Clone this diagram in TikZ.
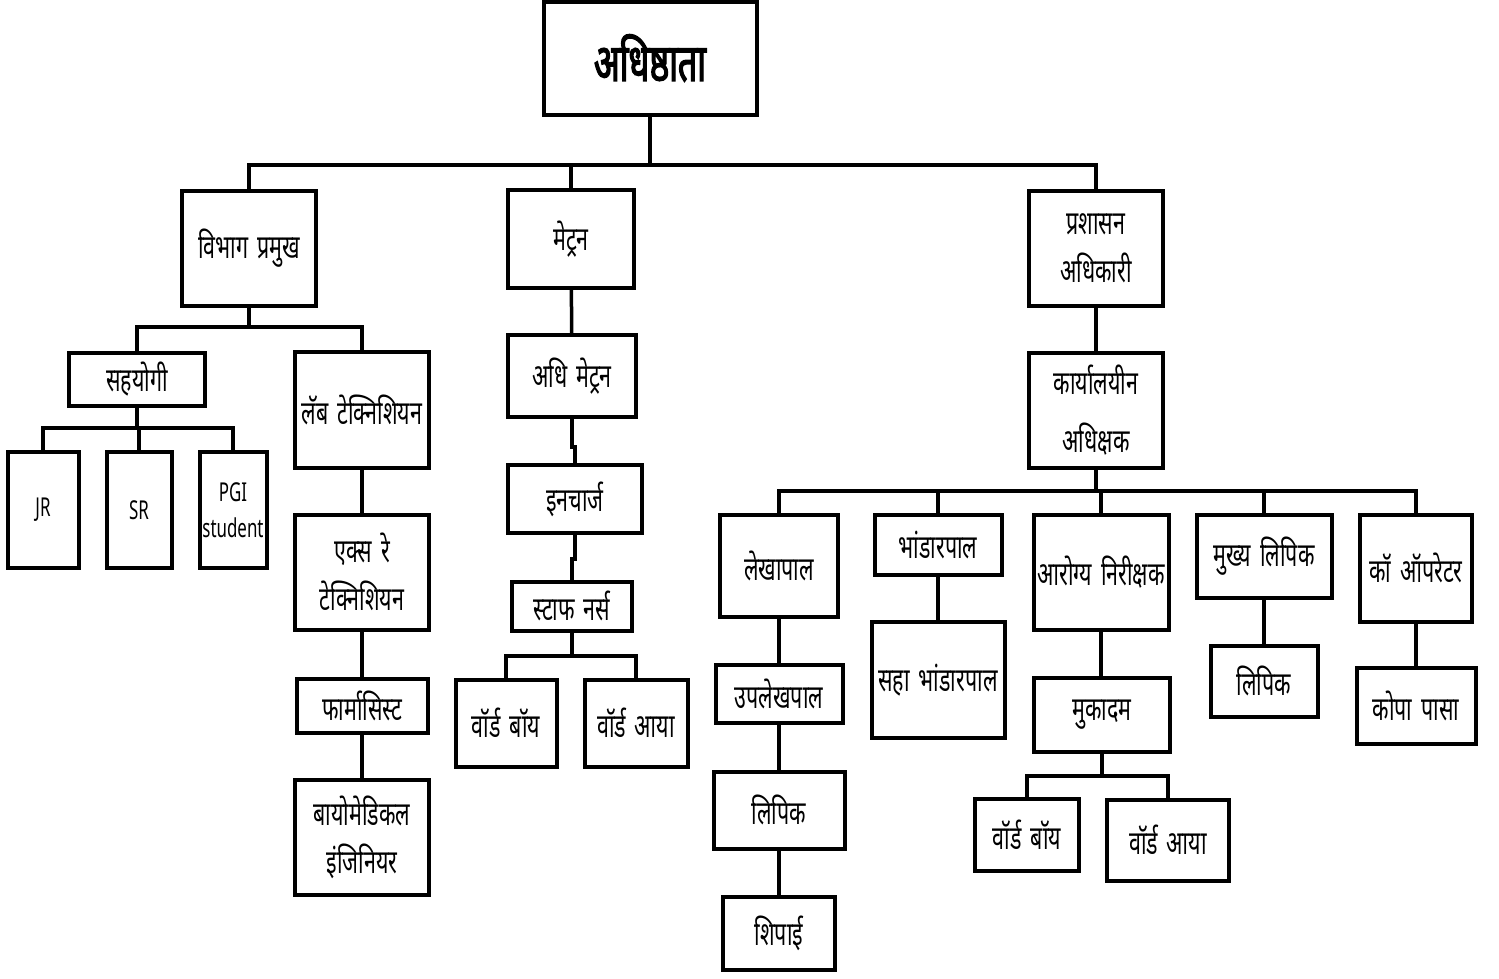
\documentclass[tikz,border=0pt]{standalone}
\usepackage{fontspec}
\setmainfont[Script=Devanagari, FakeStretch=0.65, WordSpace=1.6]{Noto Sans}
\newfontfamily\rootfont[Script=Devanagari, FakeStretch=0.65, FakeBold=2.5]{Noto Sans}
\usetikzlibrary{positioning}

\tikzset{
  box/.style={draw, line width=4pt, inner sep=0pt, align=center, fill=white},
  link/.style={line width=3.5pt},
  latin/.style={font=\fontsize{26}{36}\selectfont}
}

\begin{document}
\begin{tikzpicture}[x=1pt, y=-1pt, font=\fontsize{33}{48}\selectfont]

\useasboundingbox (0,0) rectangle (1499,978);

% top
\node (root)[box, minimum width=213pt, minimum height=113pt, font=\rootfont\fontsize{52}{56}\selectfont] at (650, 58) {अधिष्ठाता};

\node (vibhag)[box, minimum width=134pt, minimum height=115pt] at (249, 248) {विभाग प्रमुख};
\node (metron)[box, minimum width=126pt, minimum height=98pt] at (571, 239) {मेट्रन};
\node (prashasan)[box, minimum width=134pt, minimum height=115pt] at (1096, 248) {प्रशासन\\अधिकारी};

% left branch
\node (sahyogi)[box, minimum width=136pt, minimum height=53pt] at (137, 379) {सहयोगी};
\node (labtech)[box, minimum width=134pt, minimum height=116pt] at (362, 410) {लॅब टेक्निशियन};
\node (jr)[box, latin, minimum width=71pt, minimum height=116pt] at (43, 510) {JR};
\node (sr)[box, latin, minimum width=65pt, minimum height=116pt] at (139, 510) {SR};
\node (pgi)[box, latin, minimum width=67pt, minimum height=116pt] at (233, 510) {PGI\\student};
\node (xray)[box, minimum width=134pt, minimum height=115pt] at (362, 572) {एक्स रे\\टेक्निशियन};
\node (pharma)[box, minimum width=131pt, minimum height=54pt] at (362, 706) {फार्मासिस्ट};
\node (biomed)[box, minimum width=134pt, minimum height=115pt] at (362, 837) {बायोमेडिकल\\इंजिनियर};

% middle branch
\node (admetron)[box, minimum width=128pt, minimum height=82pt] at (572, 376) {अधि मेट्रन};
\node (incharge)[box, minimum width=134pt, minimum height=68pt] at (575, 499) {इनचार्ज};
\node (nurse)[box, minimum width=120pt, minimum height=49pt] at (572, 606) {स्टाफ नर्स};
\node (wboyA)[box, minimum width=101pt, minimum height=87pt] at (506, 723) {वॉर्ड बॉय};
\node (wayaA)[box, minimum width=103pt, minimum height=87pt] at (636, 723) {वॉर्ड आया};

% right branch
\node (office)[box, minimum width=134pt, minimum height=115pt, font=\fontsize{33}{58}\selectfont] at (1096, 410) {कार्यालयीन\\अधिक्षक};
\node (lekha)[box, minimum width=118pt, minimum height=102pt] at (779, 566) {लेखापाल};
\node (bhandar)[box, minimum width=127pt, minimum height=60pt] at (938, 545) {भांडारपाल};
\node (arogya)[box, minimum width=135pt, minimum height=115pt] at (1101, 572) {आरोग्य निरीक्षक};
\node (mukhya)[box, minimum width=135pt, minimum height=83pt] at (1264, 556) {मुख्य लिपिक};
\node (comp)[box, minimum width=112pt, minimum height=107pt] at (1416, 568) {कॉ ऑपरेटर};
\node (uplekha)[box, minimum width=127pt, minimum height=58pt] at (779, 694) {उपलेखपाल};
\node (lipikA)[box, minimum width=131pt, minimum height=77pt] at (779, 810) {लिपिक};
\node (shipai)[box, minimum width=112pt, minimum height=73pt] at (779, 933) {शिपाई};
\node (sahabh)[box, minimum width=133pt, minimum height=116pt] at (938, 680) {सहा भांडारपाल};
\node (mukadam)[box, minimum width=136pt, minimum height=74pt] at (1102, 715) {मुकादम};
\node (wboyB)[box, minimum width=104pt, minimum height=72pt] at (1027, 835) {वॉर्ड बॉय};
\node (wayaB)[box, minimum width=122pt, minimum height=81pt] at (1168, 840) {वॉर्ड आया};
\node (lipikB)[box, minimum width=107pt, minimum height=71pt] at (1264, 681) {लिपिक};
\node (kopa)[box, minimum width=119pt, minimum height=76pt] at (1416, 706) {कोपा पासा};

% bus points
\coordinate (b0) at (650, 165);
\coordinate (b1) at (249, 327);
\coordinate (b2) at (137, 428);
\coordinate (b3) at (572, 656);
\coordinate (b4) at (1096, 491);
\coordinate (b5) at (1102, 776);

\begin{scope}[on background layer/.try]
\draw[link] (root.south) -- (b0);
\draw[link] (b0) -| (vibhag.north);
\draw[link] (b0) -| (metron.north);
\draw[link] (b0) -| (prashasan.north);

\draw[link] (vibhag.south) -- (b1);
\draw[link] (b1) -| (sahyogi.north);
\draw[link] (b1) -| (labtech.north);
\draw[link] (sahyogi.south) -- (b2);
\draw[link] (b2) -| (jr.north);
\draw[link] (b2) -| (sr.north);
\draw[link] (b2) -| (pgi.north);
\draw[link] (labtech) -- (xray);
\draw[link] (xray) -- (pharma);
\draw[link] (pharma) -- (biomed);

\draw[link] (metron) -- (admetron);
\draw[link] (admetron.south) -- ++(0, 28) -| (incharge.north);
\draw[link] (incharge.south) -- ++(0, 24) -| (nurse.north);
\draw[link] (nurse.south) -- (b3);
\draw[link] (b3) -| (wboyA.north);
\draw[link] (b3) -| (wayaA.north);

\draw[link] (prashasan) -- (office);
\draw[link] (office.south) -- (b4);
\draw[link] (b4) -| (lekha.north);
\draw[link] (b4) -| (bhandar.north);
\draw[link] (b4) -| (arogya.north);
\draw[link] (b4) -| (mukhya.north);
\draw[link] (b4) -| (comp.north);
\draw[link] (lekha) -- (uplekha);
\draw[link] (uplekha) -- (lipikA);
\draw[link] (lipikA) -- (shipai);
\draw[link] (bhandar) -- (sahabh);
\draw[link] (arogya.south) -- (arogya.south |- mukadam.north);
\draw[link] (mukadam.south) -- (b5);
\draw[link] (b5) -| (wboyB.north);
\draw[link] (b5) -| (wayaB.north);
\draw[link] (mukhya) -- (lipikB);
\draw[link] (comp) -- (kopa);
\end{scope}

\end{tikzpicture}
\end{document}
